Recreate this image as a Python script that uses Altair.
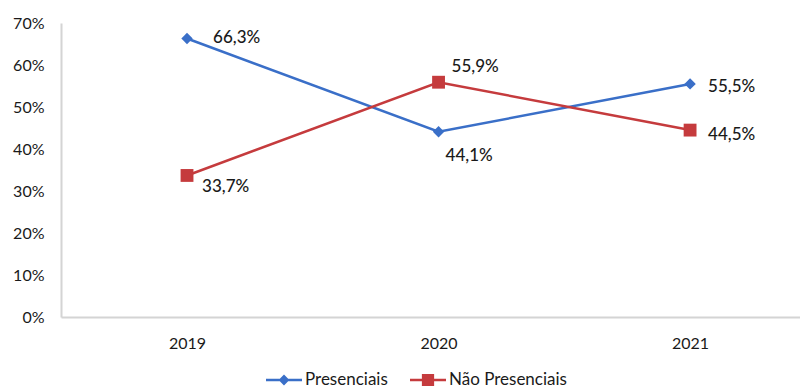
import altair as alt
import pandas as pd

years = [2019, 2020, 2021]
series_names = ["Presenciais", "Não Presenciais"]
presenciais = [66.3, 44.1, 55.5]
nao_presenciais = [33.7, 55.9, 44.5]

rows = []
for name, vals in zip(series_names, [presenciais, nao_presenciais]):
    for y, v in zip(years, vals):
        rows.append({"year": y, "series": name, "value": v / 100,
                     "label": f"{v:.1f}".replace(".", ",") + "%"})
df = pd.DataFrame(rows)

BLUE = "#3a6fc8"
RED = "#c53b3d"
FONT = "Lato"
TXT = "#1a1a1a"

x = alt.X("year:Q", scale=alt.Scale(domain=[2018.499, 2021.437], nice=False, zero=False),
          axis=alt.Axis(values=years, format="d", title=None, ticks=False, grid=False,
                        labelPadding=18, labelFontSize=16, labelFont=FONT, labelColor=TXT,
                        domainColor="#d4d4d4", domainWidth=2))
y = alt.Y("value:Q", scale=alt.Scale(domain=[0, 0.7], nice=False),
          axis=alt.Axis(values=[i / 10 for i in range(8)], format=".0%", title=None, ticks=False,
                        grid=False, labelPadding=17, labelFontSize=16, labelFont=FONT,
                        labelColor=TXT, domainColor="#d4d4d4", domainWidth=2))

color_scale = alt.Scale(domain=series_names, range=[BLUE, RED])

# legend glyphs: a short filled bar (the line) plus the marker, in unit coordinates
P1 = "M-1,-0.075L1,-0.075L1,0.075L-1,0.075ZM0,-0.3L0.3,0L0,0.3L-0.3,0Z"
P2 = "M-1,-0.075L1,-0.075L1,0.075L-1,0.075ZM-0.34,-0.34L0.34,-0.34L0.34,0.34L-0.34,0.34Z"
test = "datum.value === 'Presenciais'"
col_expr = f"{test} ? '{BLUE}' : '{RED}'"

legend = alt.Legend(
    title=None, orient="none", legendX=205, legendY=339, direction="horizontal",
    symbolSize=1296, symbolStrokeWidth=0, labelFont=FONT, labelFontSize=17,
    labelColor=TXT, labelOffset=3, columnPadding=22, padding=0,
    symbolType={"expr": f"{test} ? '{P1}' : '{P2}'"},
    symbolFillColor={"expr": col_expr},
    symbolStrokeColor={"expr": col_expr},
)

base = alt.Chart(df)
line = base.mark_line(strokeWidth=2.5).encode(
    x=x, y=y, color=alt.Color("series:N", scale=color_scale, legend=legend),
    detail="series:N")

marker_styles = {
    "Presenciais": ("diamond", 130, BLUE),
    "Não Presenciais": ("square", 165, RED),
}
point_layers = [
    base.transform_filter(alt.datum.series == s).mark_point(
        filled=True, opacity=1, strokeWidth=0, shape=shp, size=sz, fill=col
    ).encode(x=x, y=y)
    for s, (shp, sz, col) in marker_styles.items()
]

offsets = {
    ("Presenciais", 2019): (26, -1),
    ("Não Presenciais", 2019): (15, 12),
    ("Não Presenciais", 2020): (13, -15),
    ("Presenciais", 2020): (7, 24),
    ("Presenciais", 2021): (18, 3),
    ("Não Presenciais", 2021): (18, 5),
}
texts = []
for (s, yr), (dx, dy) in offsets.items():
    texts.append(base.transform_filter(
        (alt.datum.series == s) & (alt.datum.year == yr)
    ).mark_text(align="left", baseline="middle", dx=dx, dy=dy, fontSize=17, font=FONT,
                color=TXT, fontWeight=500).encode(x=x, y=y, text="label:N"))

chart = alt.layer(line, *point_layers, *texts).properties(
    width=739, height=294,
    autosize=alt.AutoSizeParams(type="none"),
    padding={"left": 61, "top": 23, "right": 0, "bottom": 74},
    background="white",
).configure_view(stroke=None)

chart.save("out.html", embed_options={"renderer": "svg", "actions": False})
